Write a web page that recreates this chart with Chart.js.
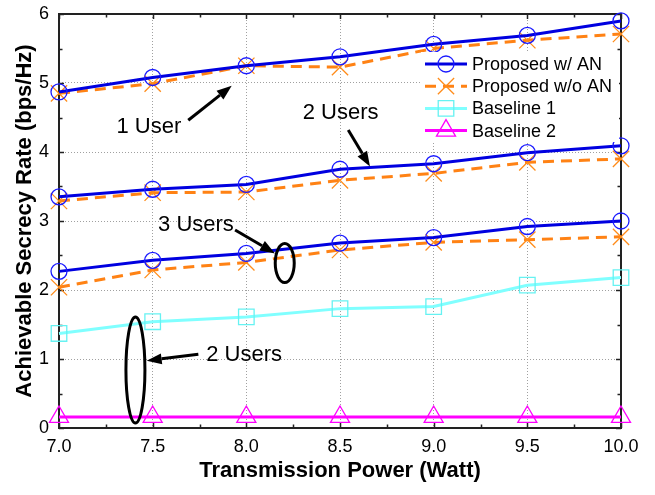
<!DOCTYPE html>
<html>
<head>
<meta charset="utf-8">
<script src="https://cdn.jsdelivr.net/npm/chart.js@4.4.0/dist/chart.umd.min.js"></script>
<style>
  html, body { margin: 0; padding: 0; background: #fff; }
</style>
</head>
<body>
<canvas id="rate-chart" width="655" height="495"></canvas>
<script>
const powerWatt = [7.0, 7.5, 8.0, 8.5, 9.0, 9.5, 10.0];

// Proposed w/ AN, for 1 / 2 / 3 users
const withAN1User = [4.87, 5.08, 5.25, 5.38, 5.56, 5.69, 5.90];
const withAN2Users = [3.35, 3.46, 3.53, 3.75, 3.83, 3.99, 4.09];
const withAN3Users = [2.27, 2.43, 2.53, 2.68, 2.76, 2.92, 3.00];

// Proposed w/o AN
const noAN1User = [4.85, 4.99, 5.25, 5.23, 5.50, 5.62, 5.71];
const noAN2Users = [3.29, 3.41, 3.42, 3.59, 3.69, 3.85, 3.90];
const noAN3Users = [2.04, 2.29, 2.40, 2.58, 2.69, 2.73, 2.77];

const baseline1 = [1.37, 1.54, 1.61, 1.73, 1.76, 2.07, 2.18];
const baseline2 = [0.16, 0.16, 0.16, 0.16, 0.16, 0.16, 0.16];

const xTicks = [7.0, 7.5, 8.0, 8.5, 9.0, 9.5, 10.0];
const yTicks = [0, 1, 2, 3, 4, 5, 6];

const FONT = "'Liberation Sans', Arial, sans-serif";

const styles = {
    withAN: { line: '#0000e0', point: '#1a1aff', dash: [], pointStyle: 'circle', radius: 8 },
    noAN: { line: '#ff8214', point: '#ff8c1a', dash: [11, 7], pointStyle: 'crossRot', radius: 11.5 },
    base1: { line: '#80ffff', point: '#66f2f2', dash: [], pointStyle: 'rect', radius: 11 },
    base2: { line: '#ff00ff', point: '#ff00ff', dash: [], pointStyle: 'triangle', radius: 11 }
};

function series(label, values, st) {
    return {
        label: label,
        data: powerWatt.map((p, i) => ({ x: p, y: values[i] })),
        borderColor: st.line,
        borderWidth: 3,
        borderDash: st.dash,
        pointStyle: st.pointStyle,
        pointRadius: st.radius,
        pointHoverRadius: st.radius,
        pointBorderColor: st.point,
        pointBackgroundColor: 'rgba(0,0,0,0)',
        pointBorderWidth: 1.3,
        fill: false,
        tension: 0,
        clip: false
    };
}

const datasets = [
    series('Proposed w/ AN', withAN1User, styles.withAN),
    series('Proposed w/o AN', noAN1User, styles.noAN),
    series('Proposed w/ AN', withAN2Users, styles.withAN),
    series('Proposed w/o AN', noAN2Users, styles.noAN),
    series('Proposed w/ AN', withAN3Users, styles.withAN),
    series('Proposed w/o AN', noAN3Users, styles.noAN),
    series('Baseline 1', baseline1, styles.base1),
    series('Baseline 2', baseline2, styles.base2)
];

// frame with inward major/minor ticks on all four sides
const frameTicks = {
    id: 'frameTicks',
    beforeDatasetsDraw(chart) {
        const { ctx, chartArea: a, scales: { x, y } } = chart;
        ctx.save();
        ctx.strokeStyle = '#222';
        ctx.lineWidth = 1.5;
        ctx.beginPath();
        for (let i = 0; i <= 12; i++) {
            const v = 7 + i * 0.25;
            const len = i % 2 === 0 ? 5 : 3.5;
            const px = Math.round(x.getPixelForValue(v)) + 0.5;
            ctx.moveTo(px, a.bottom); ctx.lineTo(px, a.bottom - len);
            ctx.moveTo(px, a.top); ctx.lineTo(px, a.top + len);
        }
        for (let i = 0; i <= 12; i++) {
            const v = i * 0.5;
            const len = i % 2 === 0 ? 5 : 3.5;
            const py = Math.round(y.getPixelForValue(v)) + 0.5;
            ctx.moveTo(a.left, py); ctx.lineTo(a.left + len, py);
            ctx.moveTo(a.right, py); ctx.lineTo(a.right - len, py);
        }
        ctx.stroke();
        ctx.lineWidth = 2;
        ctx.strokeRect(a.left, a.top, a.right - a.left, a.bottom - a.top);
        ctx.restore();
    }
};

// arrows, ellipses, labels and the legend box
const notes = {
    id: 'notes',
    afterDatasetsDraw(chart) {
        const { ctx, scales: { x, y } } = chart;
        const P = (vx, vy) => [x.getPixelForValue(vx), y.getPixelForValue(vy)];

        function arrow(from, to) {
            const [x1, y1] = P(from[0], from[1]);
            const [x2, y2] = P(to[0], to[1]);
            const ang = Math.atan2(y2 - y1, x2 - x1);
            const len = 15, half = 5.5;
            const bx = x2 - Math.cos(ang) * len, by = y2 - Math.sin(ang) * len;
            ctx.beginPath();
            ctx.moveTo(x1, y1);
            ctx.lineTo(bx, by);
            ctx.stroke();
            ctx.beginPath();
            ctx.moveTo(x2, y2);
            ctx.lineTo(bx - Math.sin(ang) * half, by + Math.cos(ang) * half);
            ctx.lineTo(bx + Math.sin(ang) * half, by - Math.cos(ang) * half);
            ctx.closePath();
            ctx.fill();
        }
        function ellipse(cx, cy, rx, ry) {
            const [px, py] = P(cx, cy);
            ctx.beginPath();
            ctx.ellipse(px, py, rx, ry, 0, 0, Math.PI * 2);
            ctx.stroke();
        }
        function label(text, vx, vy) {
            const [px, py] = P(vx, vy);
            ctx.fillText(text, px, py);
        }

        ctx.save();
        ctx.strokeStyle = '#000';
        ctx.fillStyle = '#000';
        ctx.lineWidth = 3;
        ctx.font = '22px ' + FONT;
        ctx.textAlign = 'center';
        ctx.textBaseline = 'middle';

        label('1 User', 7.48, 4.37);
        arrow([7.69, 4.46], [7.922, 4.96]);

        label('2 Users', 8.503, 4.56);
        arrow([8.544, 4.32], [8.66, 3.79]);

        label('3 Users', 7.731, 2.94);
        arrow([7.94, 2.87], [8.153, 2.53]);
        ellipse(8.205, 2.39, 9.5, 19.5);

        label('2 Users', 7.988, 1.058);
        arrow([7.744, 1.07], [7.468, 0.975]);
        ellipse(7.408, 0.84, 9.5, 53);

        // legend
        ctx.fillStyle = '#fff';
        ctx.fillRect(421, 52, 198, 90);
        const entries = [
            ['Proposed w/ AN', styles.withAN],
            ['Proposed w/o AN', styles.noAN],
            ['Baseline 1', styles.base1],
            ['Baseline 2', styles.base2]
        ];
        ctx.font = '18px ' + FONT;
        ctx.textAlign = 'left';
        entries.forEach(([text, st], i) => {
            const ly = 64 + i * 22.2;
            ctx.strokeStyle = st.line;
            ctx.lineWidth = 3;
            ctx.setLineDash(st.dash);
            ctx.beginPath();
            ctx.moveTo(425, ly);
            ctx.lineTo(467, ly);
            ctx.stroke();
            ctx.setLineDash([]);
            ctx.strokeStyle = st.point;
            ctx.fillStyle = 'rgba(0,0,0,0)';
            ctx.lineWidth = 1.3;
            Chart.helpers.drawPoint(ctx, { pointStyle: st.pointStyle, radius: st.radius, rotation: 0, borderWidth: 1.3 }, 446, ly);
            ctx.fillStyle = '#000';
            ctx.fillText(text, 472, ly + 1);
        });
        ctx.restore();
    }
};

new Chart(document.getElementById('rate-chart'), {
    type: 'line',
    data: { datasets: datasets },
    options: {
        responsive: false,
        animation: false,
        devicePixelRatio: 1,
        layout: { padding: { left: 0, right: 34, top: 14, bottom: 0 } },
        plugins: {
            legend: { display: false },
            tooltip: { enabled: false }
        },
        scales: {
            x: {
                type: 'linear',
                min: 7,
                max: 10,
                afterBuildTicks: s => { s.ticks = xTicks.map(v => ({ value: v })); },
                ticks: {
                    callback: v => v.toFixed(1),
                    color: '#000',
                    font: { family: FONT, size: 18 },
                    padding: 8,
                    maxRotation: 0,
                    autoSkip: false
                },
                grid: { color: '#a0a0a0', lineWidth: 1, drawTicks: false },
                border: { display: false, dash: [1, 2] },
                title: {
                    display: true,
                    text: 'Transmission Power (Watt)',
                    color: '#000',
                    font: { family: FONT, size: 22, weight: 'bold' },
                    padding: { top: 0, bottom: 11 }
                },
                afterFit: s => {
                    s.height = 67;
                    s.paddingLeft = 0;
                    s.paddingRight = 0;
                }
            },
            y: {
                min: 0,
                max: 6,
                afterBuildTicks: s => { s.ticks = yTicks.map(v => ({ value: v })); },
                ticks: {
                    color: '#000',
                    font: { family: FONT, size: 18 },
                    padding: 10
                },
                grid: { color: '#a0a0a0', lineWidth: 1, drawTicks: false },
                border: { display: false, dash: [1, 2] },
                title: {
                    display: true,
                    text: 'Achievable Secrecy Rate (bps/Hz)',
                    color: '#000',
                    font: { family: FONT, size: 22, weight: 'bold' },
                    padding: { top: 12, bottom: 0 }
                },
                afterFit: s => {
                    s.width = 59;
                    s.paddingTop = 0;
                    s.paddingBottom = 0;
                }
            }
        }
    },
    plugins: [frameTicks, notes]
});
</script>
</body>
</html>
